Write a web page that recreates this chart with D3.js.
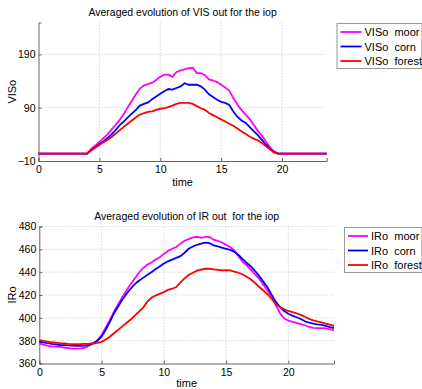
<!DOCTYPE html>
<html>
<head>
<meta charset="utf-8">
<script src="https://cdn.jsdelivr.net/npm/d3@7"></script>
<style>
  body { margin: 0; background: #fff; }
  svg { display: block; font-family: "Liberation Sans", Arial, sans-serif; }
  text { white-space: pre; }
</style>
</head>
<body>
<svg id="chart" width="422" height="389"></svg>
<script>
// time axis: 20 minute steps, 0 .. 23.67 h
var time = d3.range(72).map(function(i) { return i / 3; });

// VIS out (top)
var visMoor = [4,4,4,4,4,4,4,4,4,4,4,4,4,
  13,19,26,33,40,49,58,67,78,91,103,115,126,132,134,137,142,148,152,152,148,157,160,162,164,165,
  155,155,151,143,141,138,133,128,122,108,96,86,77,69,58,47,38,27,16,8,
  4,4,4,4,4,4,4,4,4,4,4,4,4];
var visCorn = [4,4,4,4,4,4,4,4,4,4,4,4,4,
  10,16,22,27,33,40,48,57,64,72,79,86,94,97,100,106,111,116,121,125,124,127,130,136,133,133,
  133,130,124,115,110,105,101,99,95,83,73,66,62,54,46,39,30,21,13,7,
  4,4,4,4,4,4,4,4,4,4,4,4,4];
var visForest = [4,4,4,4,4,4,4,4,4,4,4,4,4,
  10,15,20,25,30,35,41,48,54,60,66,72,77,80,82,83,86,88,89,91,94,97,99,99,99,97,
  93,89,86,80,76,72,68,64,60,56,51,46,41,36,32,29,24,18,12,6,
  4,4,4,4,4,4,4,4,4,4,4,4,4];

// IR out (bottom)
var irMoor = [377.5,376.5,375.5,375,374.8,374.5,374,373.5,373,373,373.2,374,
  375.5,377.5,380.5,385,391.5,398,405.5,412,418,424,429.5,434.5,
  439.5,443.5,446.5,448.5,451,453,456,458.5,460.5,462,465,467.5,
  469,470.5,471,470,471,471,468.5,467.5,466,464,462,459,
  454,449,446,442,438,434,429,424,418.5,411,404,399.5,
  397.5,396.5,395.5,394.5,393.5,392,391.2,391,391,390.8,390,389];
var irCorn = [379,378.5,377.8,377.2,376.7,376.2,376,375.8,375.6,375.5,375.5,375.6,
  376.3,377.8,380,383.5,389.5,396.5,404,410,416,421,425.5,429.5,
  432.5,435,437.5,440,442.5,445,447.5,449.5,451,452.5,454,457,
  460.5,462.5,464,465,465.8,465.5,463.5,462.5,461.5,460.5,459.5,457.8,
  455,451.5,448,445,441,436.5,431.5,426.5,420,414,409.5,406,
  403.6,402,400.5,399,397,395.8,395,394.3,393.8,393,391.8,391];
var irForest = [380.5,379.8,379.2,378.6,378.2,377.8,377.5,377.2,377,377,377,377.2,
  377.3,377.5,378,379,381,383.5,386.5,389.5,392.5,395.5,398.5,402,
  405.5,409,414,417.5,419.5,421,422.5,424.5,425.5,427,431,434.5,
  437.5,439.5,441.3,442.3,443,443,442.5,442,441.5,441.8,441.5,440.5,
  439.5,438,436,433.5,430.5,427,424,420.5,416.5,412,409.5,407.5,
  406,405,404,402.6,401,399,397.8,396.8,396,395,394,393];

var xTicks = [0, 5, 10, 15, 20];
var visTicks = [-10, 90, 190];
var irTicks = [360, 380, 400, 420, 440, 460, 480];
var colors = ['#ff00ff', '#0000ff', '#ff0000'];

var svg = d3.select('#chart');

function panel(opt) {
    var x = d3.scaleLinear().domain([0, 23.67]).range([opt.left, opt.right]);
    var y = d3.scaleLinear().domain(opt.ydomain).range([opt.bottom, opt.top]);
    var g = svg.append('g');

    // grid
    g.selectAll('.vgrid').data(xTicks.slice(1))
        .enter().append('line')
        .attr('x1', function(d) { return x(d); }).attr('x2', function(d) { return x(d); })
        .attr('y1', opt.top).attr('y2', opt.bottom)
        .attr('stroke', '#c4c4c4').attr('stroke-dasharray', '1,2');
    g.selectAll('.hgrid').data(opt.yticks.slice(1))
        .enter().append('line')
        .attr('x1', opt.left).attr('x2', opt.right)
        .attr('y1', function(d) { return y(d); }).attr('y2', function(d) { return y(d); })
        .attr('stroke', '#c4c4c4').attr('stroke-dasharray', '1,2');

    // axes, ticks inward like matlab
    var xa = g.append('g').attr('transform', 'translate(0,' + opt.bottom + ')')
        .call(d3.axisBottom(x).tickValues(xTicks).tickSize(-3).tickPadding(5));
    var ya = g.append('g').attr('transform', 'translate(' + opt.left + ',0)')
        .call(d3.axisLeft(y).tickValues(opt.yticks).tickSize(-3).tickPadding(3));
    [xa, ya].forEach(function(a) {
        a.select('.domain').attr('stroke', '#666');
        a.selectAll('.tick line').attr('stroke', '#666');
        a.selectAll('text').attr('font-size', 10.5).attr('fill', '#000')
            .attr('font-family', '"Liberation Sans", Arial, sans-serif');
    });

    var line = d3.line()
        .x(function(d, i) { return x(time[i]); })
        .y(function(d) { return y(d); });
    opt.series.forEach(function(s, k) {
        g.append('path').datum(s)
            .attr('d', line)
            .attr('fill', 'none')
            .attr('stroke', colors[k])
            .attr('stroke-width', 1.8);
    });

    g.append('text').attr('x', (opt.left + opt.right) / 2).attr('y', opt.titleY)
        .attr('text-anchor', 'middle').attr('font-size', 10.5).text(opt.title);
    g.append('text').attr('x', (opt.left + opt.right) / 2).attr('y', opt.xlabY)
        .attr('text-anchor', 'middle').attr('font-size', 11).text('time');
    g.append('text')
        .attr('transform', 'translate(16,' + (opt.top + opt.bottom) / 2 + ') rotate(-90)')
        .attr('text-anchor', 'middle').attr('font-size', 11).text(opt.ylab);

    // legend
    var lg = g.append('g').attr('transform', 'translate(' + opt.legX + ',' + opt.legY + ')');
    lg.append('rect').attr('x', 0.5).attr('y', 0.5)
        .attr('width', 421.5 - opt.legX).attr('height', 45)
        .attr('fill', '#fff').attr('stroke', '#999');
    opt.labels.forEach(function(lab, k) {
        var yy = 9 + k * 14.5;
        lg.append('line').attr('x1', 4).attr('x2', 4 + opt.legLine)
            .attr('y1', yy).attr('y2', yy)
            .attr('stroke', colors[k]).attr('stroke-width', 1.8);
        lg.append('text').attr('x', 7 + opt.legLine).attr('y', yy + 4)
            .attr('font-size', 11).text(lab);
    });
}

panel({
    left: 38.5, right: 326.7, top: 22.4, bottom: 161,
    ydomain: [-10, 250], yticks: visTicks,
    series: [visMoor, visCorn, visForest],
    title: 'Averaged evolution of VIS out for the iop',
    titleY: 15.5, xlabY: 186, ylab: 'VISo',
    legX: 336.5, legY: 23, legLine: 21,
    labels: ['VISo  moor', 'VISo  corn', 'VISo  forest']
});

panel({
    left: 39.3, right: 334, top: 226.5, bottom: 363.5,
    ydomain: [360, 480], yticks: irTicks,
    series: [irMoor, irCorn, irForest],
    title: 'Averaged evolution of IR out  for the iop',
    titleY: 219.5, xlabY: 387, ylab: 'IRo',
    legX: 344, legY: 227, legLine: 20,
    labels: ['IRo  moor', 'IRo  corn', 'IRo  forest']
});
</script>
</body>
</html>
